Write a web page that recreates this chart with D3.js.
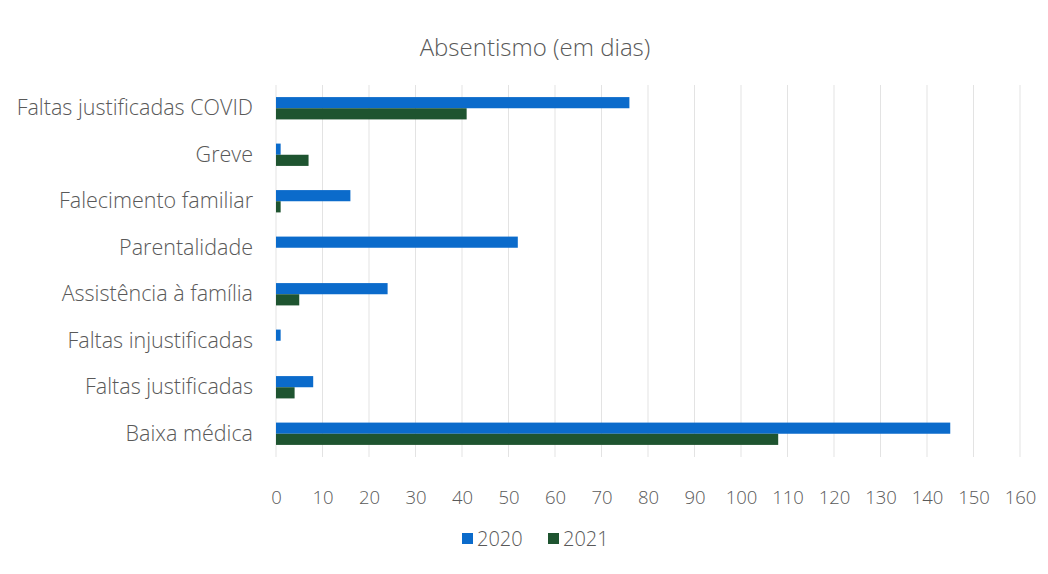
<!DOCTYPE html>
<html><head><meta charset="utf-8">
<script src="https://cdn.jsdelivr.net/npm/d3@7"></script>
<style>body{margin:0;background:#fff}svg{display:block}text{font-family:"Open Sans",sans-serif;fill:#595959}</style>
</head><body><div id="chart"></div>
<script>
const categories = ["Faltas justificadas COVID","Greve","Falecimento familiar","Parentalidade","Assistência à família","Faltas injustificadas","Faltas justificadas","Baixa médica"];
const series2020 = [76, 1, 16, 52, 24, 1, 8, 145];
const series2021 = [41, 7, 1, 0, 5, 0, 4, 108];
const seriesNames = ["2020","2021"];
const colors = ["#0b6bcb","#1e5430"];
const xTicks = [0,10,20,30,40,50,60,70,80,90,100,110,120,130,140,150,160];
const title = "Absentismo (em dias)";

const W=1048,H=574;
const svg=d3.select("#chart").append("svg").attr("width",W).attr("height",H);
const m={left:276,right:28,top:85,bottom:117};
const x=d3.scaleLinear().domain([0,160]).range([m.left,W-m.right]);
const y=d3.scaleBand().domain(categories).range([m.top,H-m.bottom]).paddingInner(0.52).paddingOuter(0.26);
const y2=d3.scaleBand().domain(seriesNames).range([0,y.bandwidth()]);

svg.append("text").attr("x",535).attr("y",56).attr("text-anchor","middle").attr("font-size",24).style("font-weight",300).text(title);

svg.append("g").selectAll("line").data(xTicks).join("line")
 .attr("x1",d=>x(d)).attr("x2",d=>x(d)).attr("y1",m.top).attr("y2",H-m.bottom)
 .attr("stroke","#e3e3e3").attr("stroke-width",1);

const xAxis=d3.axisBottom(x).tickValues(xTicks).tickSize(0).tickPadding(0);
const gx=svg.append("g").attr("transform",`translate(0,${H-m.bottom+34})`).call(xAxis);
gx.select(".domain").remove();
gx.selectAll("text").attr("font-size",18.5).style("font-family","'Open Sans',sans-serif").style("font-weight",300).attr("fill","#595959");

const yAxis=d3.axisLeft(y).tickSize(0).tickPadding(23);
const gy=svg.append("g").attr("transform",`translate(${m.left},0)`).call(yAxis);
gy.select(".domain").remove();
gy.selectAll("text").attr("font-size",21.5).style("font-family","'Open Sans',sans-serif").style("font-weight",300).attr("fill","#595959");

const data=categories.map((c,i)=>({c,vals:[series2020[i],series2021[i]]}));
const g=svg.append("g").selectAll("g").data(data).join("g").attr("transform",d=>`translate(0,${y(d.c)})`);
g.selectAll("rect").data(d=>d.vals.map((v,j)=>({v,s:seriesNames[j],j}))).join("rect")
 .attr("x",x(0)).attr("y",d=>y2(d.s)).attr("height",y2.bandwidth())
 .attr("width",d=>x(d.v)-x(0)).attr("fill",d=>colors[d.j]);

const leg=svg.append("g").attr("transform","translate(462,538)");
const items=leg.selectAll("g").data(seriesNames).join("g").attr("transform",(d,i)=>`translate(${i*86},0)`);
items.append("rect").attr("x",0).attr("y",-5).attr("width",11).attr("height",11).attr("fill",(d,i)=>colors[i]);
items.append("text").attr("x",15).attr("y",7.5).attr("font-size",20).style("font-weight",300).text(d=>d);
</script></body></html>
